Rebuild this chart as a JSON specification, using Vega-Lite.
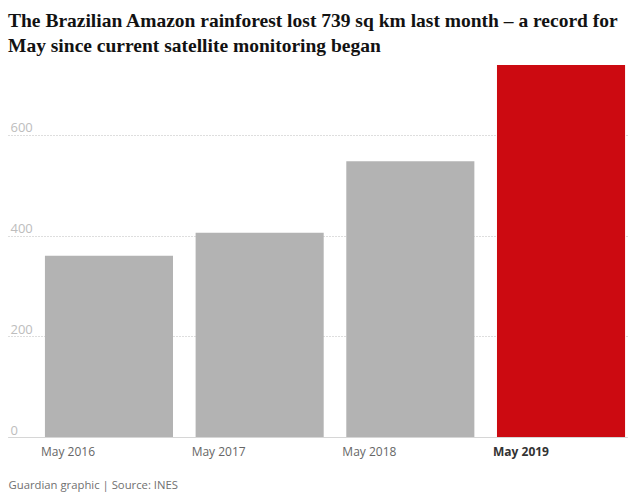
{
  "$schema": "https://vega.github.io/schema/vega-lite/v6.json",
  "width": 619,
  "height": 372,
  "autosize": "none",
  "padding": {"left": 8, "top": 65, "right": 5, "bottom": 57},
  "title": {
    "text": ["The Brazilian Amazon rainforest lost 739 sq km last month – a record for", "May since current satellite monitoring began"],
    "anchor": "start",
    "font": "Liberation Serif",
    "fontSize": 19.5,
    "fontWeight": "bold",
    "lineHeight": 25,
    "color": "#121212",
    "offset": 9
  },
  "data": {
    "values": [
      {"month": "May 2016", "area": 360},
      {"month": "May 2017", "area": 406},
      {"month": "May 2018", "area": 548},
      {"month": "May 2019", "area": 739}
    ]
  },
  "mark": {"type": "bar"},
  "encoding": {
    "x": {
      "field": "month",
      "type": "nominal",
      "sort": null,
      "scale": {"paddingInner": 0.15, "paddingOuter": 0.129, "align": 0.95},
      "axis": {
        "title": "Guardian graphic | Source: INES",
        "titleAnchor": "start",
        "titleFont": "Open Sans",
        "titleFontSize": 11.3,
        "titleFontWeight": "normal",
        "titleColor": "#707070",
        "titlePadding": 22,
        "labelAlign": "left",
        "labelAngle": 0,
        "labelOffset": -68,
        "labelPadding": 9,
        "labelFont": "Open Sans",
        "labelFontSize": 12,
        "labelColor": {"condition": {"test": "datum.value == 'May 2019'", "value": "#333333"}, "value": "#666666"},
        "labelFontWeight": {"condition": {"test": "datum.value == 'May 2019'", "value": "bold"}, "value": "normal"},
        "ticks": false,
        "domain": true,
        "domainColor": "#d6d6d6",
        "grid": false
      }
    },
    "y": {
      "field": "area",
      "type": "quantitative",
      "scale": {"domain": [0, 739], "nice": false},
      "axis": {
        "title": null,
        "values": [0, 200, 400, 600],
        "ticks": false,
        "domain": false,
        "grid": true,
        "gridDash": [1, 2],
        "gridColor": "#bdbdbd",
        "labelAlign": "left",
        "labelBaseline": "bottom",
        "labelPadding": -2,
        "labelDy": -3,
        "labelFont": "Open Sans",
        "labelFontSize": 13,
        "labelColor": "#bdbdbd"
      }
    },
    "color": {
      "condition": {"test": "datum.month == 'May 2019'", "value": "#cc0a11"},
      "value": "#b3b3b3"
    }
  },
  "config": {"view": {"stroke": null}}
}
